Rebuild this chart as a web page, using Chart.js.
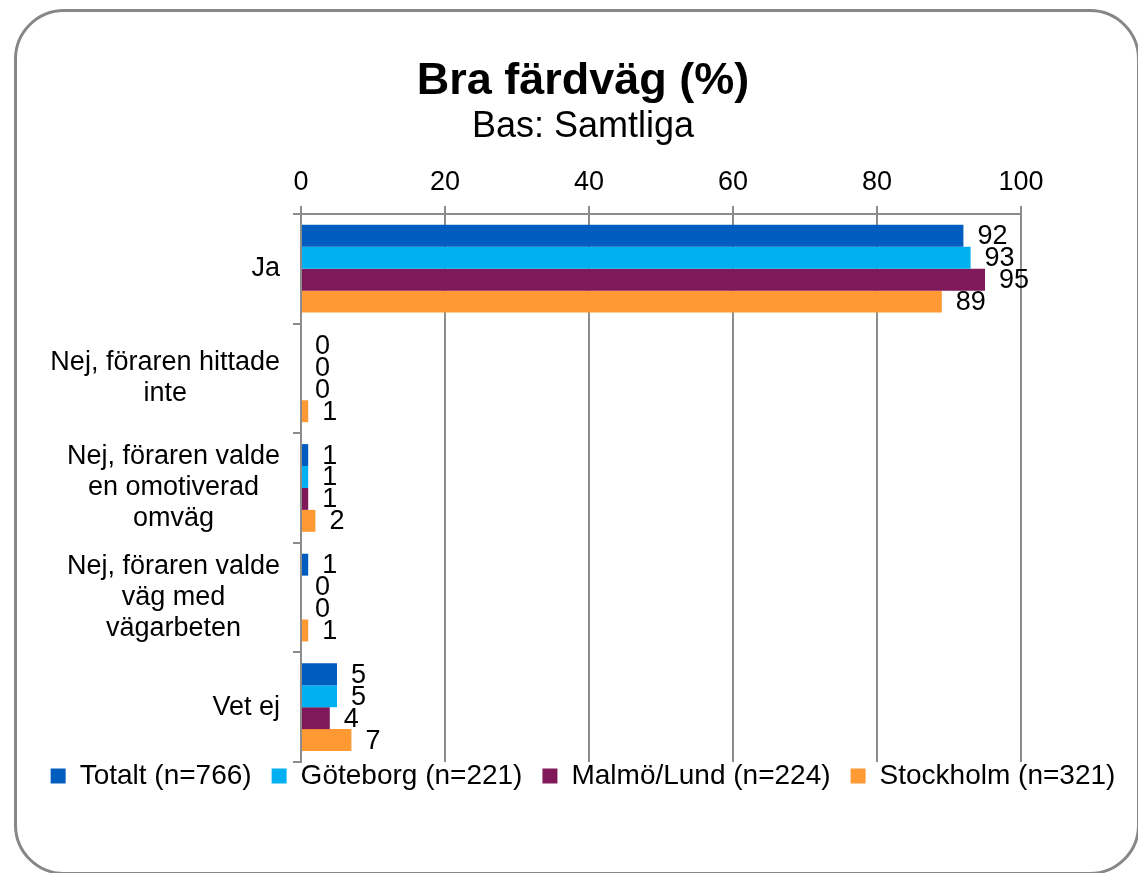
<!DOCTYPE html>
<html><head><meta charset="utf-8">
<script src="https://cdn.jsdelivr.net/npm/chart.js@4"></script>
<style>
html,body{margin:0;padding:0;background:#fff;}
#wrap{position:relative;width:1138px;height:873px;overflow:hidden;background:#fff;}
#frame{position:absolute;left:14px;top:9px;width:1126px;height:866px;box-sizing:border-box;border:3px solid #878787;border-radius:50px;pointer-events:none;}
canvas{position:absolute;left:0;top:0;}
</style></head><body>
<div id="wrap"><canvas id="c" width="1138" height="873"></canvas><div id="frame"></div></div>
<script>
const categories = [['Ja'], ['Nej, föraren hittade','inte'], ['Nej, föraren valde','en omotiverad','omväg'], ['Nej, föraren valde','väg med','vägarbeten'], ['Vet ej']];
const seriesNames = ['Totalt (n=766)', 'Göteborg (n=221)', 'Malmö/Lund (n=224)', 'Stockholm (n=321)'];
const totalt = [92, 0, 1, 1, 5];
const goteborg = [93, 0, 1, 0, 5];
const malmo = [95, 0, 1, 0, 4];
const stockholm = [89, 1, 2, 1, 7];
const xTicks = [0, 20, 40, 60, 80, 100];
const titleText = 'Bra färdväg (%)';
const subtitleText = 'Bas: Samtliga';

const colors = ['#005CBE', '#00B0F0', '#80195A', '#FF9933'];
const FONT = "'Liberation Sans', Arial, sans-serif";
const GRID = '#8c8c8c';
Chart.defaults.font.family = FONT;
Chart.defaults.color = '#000';

const seriesValues = [totalt, goteborg, malmo, stockholm];

const valueLabels = {
  id: 'valueLabels',
  afterDatasetsDraw(chart) {
    const ctx = chart.ctx;
    ctx.save();
    ctx.font = '27px ' + FONT;
    ctx.fillStyle = '#000';
    ctx.textAlign = 'left';
    ctx.textBaseline = 'middle';
    chart.data.datasets.forEach((ds, i) => {
      const meta = chart.getDatasetMeta(i);
      meta.data.forEach((bar, j) => {
        ctx.fillText(String(ds.data[j]), bar.x + 14, bar.y + 1);
      });
    });
    ctx.restore();
  }
};

const categoryLabels = {
  id: 'categoryLabels',
  afterDraw(chart) {
    const ctx = chart.ctx;
    const ys = chart.scales.y;
    ctx.save();
    ctx.font = '27px ' + FONT;
    ctx.fillStyle = '#000';
    ctx.textAlign = 'center';
    ctx.textBaseline = 'middle';
    const lh = 31;
    categories.forEach((lines, i) => {
      const cy = ys.getPixelForTick(i);
      const maxW = Math.max(...lines.map(l => ctx.measureText(l).width));
      const cx = ys.right - 21 - maxW / 2;
      lines.forEach((l, k) => ctx.fillText(l, cx, cy + (k - (lines.length - 1) / 2) * lh));
    });
    ctx.restore();
  }
};

const legendShift = {
  id: 'legendShift',
  afterLayout(chart) {
    const l = chart.legend;
    if (l) { l.top -= 20; l.bottom -= 20; }
  }
};

new Chart(document.getElementById('c'), {
  type: 'bar',
  data: {
    labels: categories,
    datasets: seriesNames.map((n, i) => ({
      label: n,
      data: seriesValues[i],
      backgroundColor: colors[i],
      borderWidth: 0,
      barPercentage: 1,
      categoryPercentage: 0.8
    }))
  },
  options: {
    indexAxis: 'y',
    responsive: false,
    animation: false,
    devicePixelRatio: 1,
    layout: { padding: { top: 0, left: 28, right: 0, bottom: 53 } },
    plugins: {
      tooltip: { enabled: false },
      title: {
        display: true, text: titleText, color: '#000',
        font: { size: 45, weight: 'bold', lineHeight: 1.1 },
        padding: { top: 57, bottom: 0 }
      },
      subtitle: {
        display: true, text: subtitleText, color: '#000',
        font: { size: 36, lineHeight: 1.15 },
        padding: { top: 0, bottom: 0 }
      },
      legend: {
        position: 'bottom',
        labels: {
          font: { size: 28 }, color: '#000',
          boxWidth: 15, boxHeight: 15, padding: 20
        }
      }
    },
    scales: {
      x: {
        position: 'top', min: 0, max: 100,
        afterBuildTicks(s) { s.ticks = xTicks.map(v => ({ value: v })); },
        afterFit(s) { s.height = 66; },
        ticks: { font: { size: 27 }, color: '#000', padding: 7 },
        grid: { color: GRID, lineWidth: 2, drawTicks: true, tickLength: 8 },
        border: { display: true, color: GRID, width: 2 }
      },
      y: {
        type: 'category', offset: true,
        afterFit(s) { s.width = 273; },
        ticks: { color: 'rgba(0,0,0,0)', font: { size: 27 } },
        grid: { display: true, drawOnChartArea: false, drawTicks: true, tickLength: 8, offset: true, color: GRID, lineWidth: 2 },
        border: { display: true, color: GRID, width: 2 }
      },
      yr: {
        type: 'linear', position: 'right', display: true,
        afterFit(s) { s.width = 117; },
        ticks: { display: false },
        grid: { display: false, drawTicks: false },
        border: { display: false }
      }
    }
  },
  plugins: [valueLabels, categoryLabels, legendShift]
});
</script>
</body></html>
